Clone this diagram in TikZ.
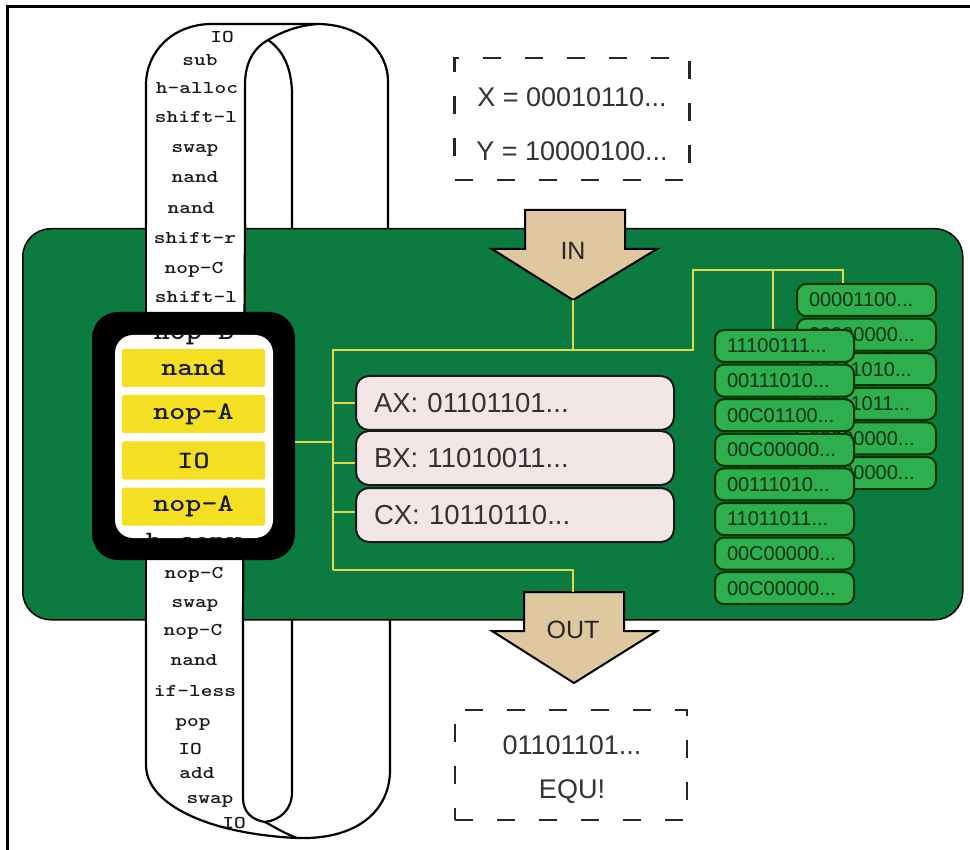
\documentclass[tikz,border=0pt]{standalone}
\usepackage{fontspec}
\newfontfamily\hv{Liberation Sans}
\newcommand{\trail}{...}

\definecolor{boardgreen}{RGB}{11,123,63}
\definecolor{cellgreen}{RGB}{46,175,78}
\definecolor{celltext}{RGB}{16,48,24}
\definecolor{regfill}{RGB}{243,230,230}
\definecolor{barfill}{RGB}{244,223,34}
\definecolor{buscol}{RGB}{226,214,74}
\definecolor{arrowfill}{RGB}{223,200,160}

\tikzset{
  edge/.style={line width=2.2pt, line join=round, line cap=round},
  tapetxt/.style={font=\ttfamily\bfseries\fontsize{18}{18}\selectfont, xscale=1.24, inner sep=0pt, anchor=base, text=black!90},
  wintxt/.style={font=\ttfamily\bfseries\fontsize{25}{25}\selectfont, xscale=1.22, inner sep=0pt, anchor=base, text=black!90},
  regbox/.style={draw=black!90, line width=2pt, fill=regfill, rounded corners=13pt,
    minimum height=54pt, text width=282pt, inner xsep=18pt, inner ysep=0pt, align=left,
    anchor=north west, font=\hv\fontsize{27.5}{27.5}\selectfont, text=black!80},
  cellbox/.style={draw=black!80!green, line width=2pt, fill=cellgreen, rounded corners=9pt,
    minimum height=32pt, text width=115pt, inner xsep=12pt, inner ysep=0pt, align=left,
    anchor=north west, font=\hv\fontsize{20}{20}\selectfont, text=celltext},
  bus/.style={draw=buscol, line width=2pt},
  arrowshape/.style={draw=black, line width=2pt, fill=arrowfill, line join=miter},
  arrowlbl/.style={font=\hv\fontsize{25}{25}\selectfont, text=black!85, inner sep=0pt},
  dashbox/.style={draw=black!85, line width=2.5pt, dash pattern=on 18pt off 24pt, inner sep=0pt},
  iotxt/.style={font=\hv\fontsize{27}{27}\selectfont, text=black!80, inner sep=0pt},
  bar/.style={fill=barfill, minimum width=143pt, minimum height=38pt, inner sep=0pt, rounded corners=2pt},
}

\begin{document}
\begin{tikzpicture}[x=1pt,y=-1pt]
\useasboundingbox (0,0) rectangle (970,850);
\fill[white] (0,0) rectangle (970,850);

% outer frame lines
\draw[line width=3pt] (7,850) -- (7,7) -- (970,7);

% ---- tape loop, upper part ----
\draw[edge] (146,230) -- (146,85) .. controls (146,52) and (172,25) .. (210,24) -- (317,24)
  .. controls (358,24) and (388,48) .. (388,82) -- (388,230);
\draw[edge] (245,230) -- (245,85) .. controls (245,62) and (254,48) .. (268,40);
\draw[edge] (292,230) -- (292,95) .. controls (292,68) and (283,50) .. (268,40);
\draw[edge] (268,40) .. controls (282,32) and (296,26) .. (317,24);

% ---- tape loop, lower part ----
\draw[edge] (146,616) -- (146,765) .. controls (146,805) and (210,834) .. (297,838)
  .. controls (358,840) and (390,810) .. (390,770) -- (390,616);
\draw[edge] (243,616) -- (243,798) .. controls (243,812) and (252,820) .. (265,822);
\draw[edge] (292,616) -- (292,792) .. controls (292,810) and (280,820) .. (265,822);
\draw[edge] (265,822) .. controls (276,828) and (286,834) .. (297,838);

% ---- the green board ----
\node[draw=black, line width=1.5pt, fill=boardgreen, rounded corners=28pt,
  minimum width=940pt, minimum height=391pt, inner sep=0pt, anchor=north west] (board) at (22,228) {};

% front strip of the tape crossing the board
\fill[white] (146,224) -- (245,224) -- (243,622) -- (146,622) -- cycle;
\draw[edge] (146,224) -- (146,622);
\draw[edge] (245,224) -- (243,622);

% instructions on the tape
\foreach \x/\y/\t/\n in {
  222/37/IO/t1, 200/60/sub/t2, 197/88/h-alloc/t3, 196/117/shift-l/t4, 195/147/swap/t5,
  195/177/nand/t6, 191/208/nand/t7, 195/238/shift-r/t8, 194/268/nop-C/t9, 196/297/shift-l/t10,
  194/573/nop-C/t11, 195/602/swap/t12, 193/630/nop-C/t13, 194/660/nand/t14, 195/691/if-less/t15,
  193/721/pop/t16, 190/749/IO/t17, 197/773/add/t18, 210/798/swap/t19, 234/823/IO/t20}
  \node[tapetxt] (\n) at (\x,{\y+5.5}) {\t};

% ---- the read window ----
\node[fill=black, rounded corners=26pt, minimum width=203pt, minimum height=248pt, inner sep=0pt] (win) at (193.5,436) {};
\node[fill=white, rounded corners=18pt, minimum width=158pt, minimum height=203pt, inner sep=0pt] (lens) at (194,436.5) {};
\begin{scope}
  \clip[rounded corners=18pt] (115,335) rectangle (273,538);
  \node[wintxt] (w0) at (194,340) {nop-B};
  \node[bar] (w1) at (193.5,368) {};
  \node[bar] (w2) at (193.5,414) {};
  \node[bar] (w3) at (193.5,460.5) {};
  \node[bar] (w4) at (193.5,506.5) {};
  \node[wintxt, anchor=center] at (w1) {nand};
  \node[wintxt, anchor=center] at (w2) {nop-A};
  \node[wintxt, anchor=center] at (w3) {IO};
  \node[wintxt, anchor=center] at (w4) {nop-A};
  \node[wintxt] (w5) at (194,548) {h-copy};
\end{scope}

% ---- registers ----
\node[regbox] (ax) at (355,375) {AX: 01101101...};
\node[regbox] (bx) at (355,430) {BX: 11010011...};
\node[regbox] (cx) at (355,487) {CX: 10110110...};

% ---- stacks ----
\foreach \t [count=\i from 0] in {00001100\trail, 00000000\trail, 00111010\trail, 11011011\trail, 00000000\trail, 00000000\trail}
  \node[cellbox] (b\i) at (796,{283+34.6*\i}) {\t};
\foreach \t [count=\i from 0] in {11100111\trail, 00111010\trail, 00C01100\trail, 00C00000\trail, 00111010\trail, 11011011\trail, 00C00000\trail, 00C00000\trail}
  \node[cellbox] (f\i) at (714,{329+34.6*\i}) {\t};

% ---- IN / OUT arrows ----
\draw[arrowshape] (525,210) -- (625,210) -- (625,249) -- (657,249) -- (573,300) -- (492,249) -- (525,249) -- cycle;
\coordinate (intip) at (573,300);
\node[arrowlbl] (inlbl) at (573,251) {IN};
\draw[arrowshape] (524,592) -- (624,592) -- (624,631) -- (657,631) -- (574,683) -- (492,631) -- (524,631) -- cycle;
\coordinate (outtop) at (573,592);
\node[arrowlbl] (outlbl) at (573,630) {OUT};

% ---- bus wiring ----
\coordinate (j1) at (333,350);
\coordinate (j2) at (693,350);
\coordinate (j3) at (693,270);
\coordinate (j4) at (843,270);
\coordinate (j5) at (773,270);
\coordinate (j6) at (333,570);
\draw[bus] ([yshift=-6pt]win.east) -- ++(38,0);
\draw[bus] (intip) -- (intip |- j1);
\draw[bus] (j6) -- (j1) -- (j2) -- (j3) -- (j4) -- (j4 |- b0.north);
\draw[bus] (j5) -- (j5 |- f0.north);
\draw[bus] (j6) -- (outtop |- j6) -- (outtop);
\draw[bus] (ax.west) -- (ax.west -| j1);
\draw[bus] ([yshift=-5pt]bx.west) -- ([yshift=-5pt]bx.west -| j1);
\draw[bus] ([yshift=3pt]cx.west) -- ([yshift=3pt]cx.west -| j1);

% ---- input and output values ----
\node[dashbox, minimum width=235pt, minimum height=122pt] (inbox) at (572,119) {};
\node[iotxt] (xval) at (572,97) {X = 00010110...};
\node[iotxt] (yval) at (572,151) {Y = 10000100...};
\node[dashbox, minimum width=232pt, minimum height=110pt] (outbox) at (571,765) {};
\node[iotxt] (oval) at (572,745) {01101101...};
\node[iotxt] (equ) at (572,792) {EQU!};
\end{tikzpicture}
\end{document}
